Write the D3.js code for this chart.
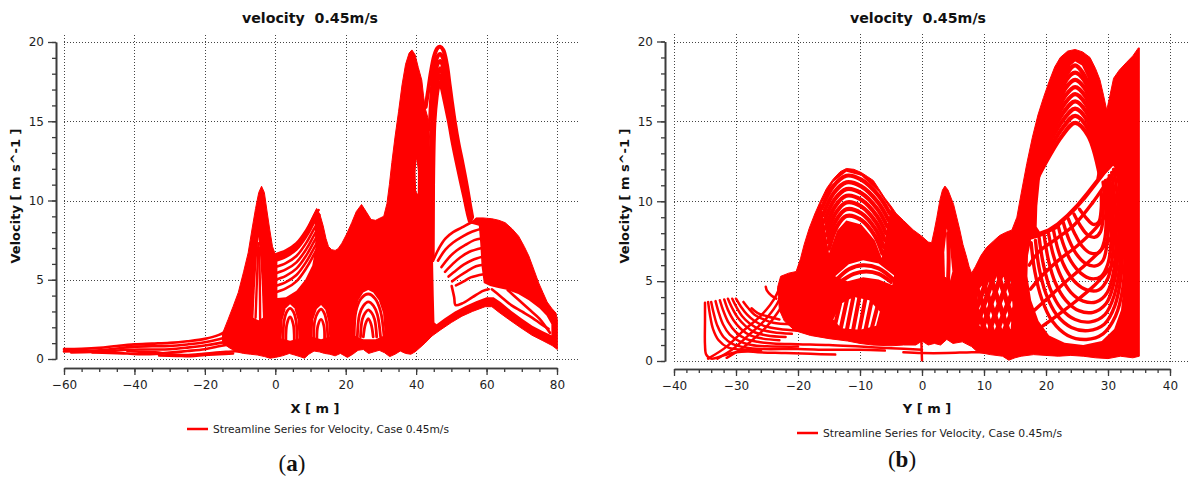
<!DOCTYPE html>
<html lang="en">
<head>
<meta charset="utf-8">
<title>velocity 0.45m/s</title>
<script src="https://d3js.org/d3.v7.min.js"></script>
<style>
  body { margin: 0; background: #ffffff; }
  svg { display: block; }
  .tick text { font-family: "DejaVu Sans", sans-serif; font-size: 12px; fill: #1e1e1e; }
  .axis .domain { stroke: #3c3c3c; stroke-width: 1.6; }
  .axis .tick line { stroke: #3c3c3c; stroke-width: 1.3; }
  .grid { stroke: #444; stroke-width: 1; stroke-dasharray: 1,2; }
  .ttl { font-family: "DejaVu Sans", sans-serif; font-weight: bold; font-size: 14px; fill: #111; white-space: pre; }
  .lbl { font-family: "DejaVu Sans", sans-serif; font-weight: bold; font-size: 13px; fill: #111; white-space: pre; }
  .leg { font-family: "DejaVu Sans", sans-serif; font-size: 11px; fill: #222; }
  .cap { font-family: "Liberation Serif", "DejaVu Serif", serif; font-size: 23px; fill: #111; }
</style>
</head>
<body>
<div id="my_dataviz"></div>
<script>
// ---------- data ----------
var yTicks = [0, 5, 10, 15, 20];
var xTicksA = [-60, -40, -20, 0, 20, 40, 60, 80];
var xTicksB = [-40, -30, -20, -10, 0, 10, 20, 30, 40];
var titleText = "velocity  0.45m/s";
var legendText = "Streamline Series for Velocity, Case 0.45m/s";

// panel (a) : velocity vs X, outer edge of the dense bundle
var aEnvTop = [[-15,1.6],[-13.4,2.5],[-12,3.3],[-10.5,4.2],[-9,5.5],[-7.7,6.7],[-6.6,8.2],[-5.6,9.5],[-4.7,10.5],[-3.9,10.9],[-3.1,10.5],[-2.4,9.4],[-1.6,8.2],[-0.8,7.1],[0,6.6],[2,6.75],[3.7,6.9],[5.2,7.1],[6.5,7.35],[8,7.8],[9.4,8.4],[10.6,9.0],[11.75,9.5],[12.7,9.1],[13.6,8.4],[14.4,7.6],[15.1,7.1],[16,6.9],[17,6.85],[17.8,6.95],[18.9,7.3],[20.3,7.9],[21.7,8.6],[23,9.3],[24.5,9.75],[25.8,9.3],[27.2,8.8],[28.5,8.75],[29.8,8.9],[30.8,9.0],[31.7,9.8],[32.4,11],[33.1,12.4],[34,14],[35,15.6],[36,17.3],[37,18.6],[38,19.3],[38.8,19.5],[39.7,19.2],[40.6,18.4],[41.6,17.6],[42.1,16.6],[42.6,15.8],[43.6,15.0],[44.2,12],[44.5,9],[44.6,6.2],[46.5,7.0],[48.3,7.6],[50.5,8.0],[53,8.3],[55.5,8.6],[57,8.9],[59,8.9],[61.5,8.85],[63.5,8.75],[65.3,8.6],[67.3,8.2],[69.1,7.75],[70.7,7.1],[72,6.5],[73.5,5.6],[74.8,4.8],[76,4.2],[77.2,3.6],[78.5,3.2],[79.7,2.9],[80.1,2.5]];
var aEnvBottom = [[-15,1.0],[-13,0.7],[-11,0.45],[-9,0.35],[-7,0.3],[-5,0.25],[-3,0.15],[-1.5,0.05],[0,0.1],[2,0.2],[4,0.35],[5.5,0.25],[7,0.15],[8.3,0.05],[9.5,0.3],[11,0.5],[12.5,0.45],[14,0.35],[15.5,0.3],[17,0.2],[18.5,0.35],[20.5,0.1],[22,0.3],[23.5,0.55],[25,0.6],[26.5,0.35],[28,0.45],[29.5,0.55],[31,0.4],[32.5,0.15],[34,0.3],[35.5,0.5],[37,0.35],[38.5,0.3],[39.7,0.45],[41,0.7],[42.5,1.0],[44.5,1.45],[47,1.85],[50,2.3],[53,2.7],[56,3.0],[59.6,3.3],[61.5,3.3],[63.5,2.95],[66.3,2.5],[69.5,2.0],[72.9,1.5],[76,1.15],[78.6,0.85],[80.1,0.6]];
// white gaps inside the bundle
var aHolePeak = [[-4.8,7.7],[-4.2,6.2],[-3.8,4.5],[-3.5,2.6],[-4.8,2.45],[-6.2,2.6],[-5.8,4.5],[-5.3,6.2]];
var aHoleFan = [[0.6,6.25],[3,6.45],[5.5,6.8],[8,7.4],[10,8.1],[11.2,8.6],[11.4,7.0],[10.5,5.9],[8.5,5.0],[6,4.3],[3,3.9],[0.6,3.85]];
var aHoleBase1 = [[1.8,1.3],[2.1,2.5],[3.0,3.2],[4.2,3.45],[5.4,3.2],[6.3,2.5],[6.6,1.3],[4.2,1.15]];
var aHoleBase2 = [[10.5,1.4],[10.8,2.5],[11.8,3.15],[13,3.4],[14.2,3.1],[15.0,2.4],[15.3,1.4],[13,1.25]];
var aHoleArch = [[22.3,1.5],[22.6,2.8],[23.6,3.7],[25,4.2],[26.4,4.35],[27.8,4.2],[29.4,3.7],[30.6,2.9],[31.1,1.5],[28.5,1.25],[25,1.25]];
var aHoleSliver = [[40.1,12.6],[40.5,11.8],[40.45,10.4],[40.0,10.6],[39.85,11.8]];
var aHoleDome = [[44.8,6.2],[46.5,7.0],[48.3,7.6],[50.5,8.0],[53,8.3],[55.5,8.55],[57.8,8.4],[58.2,7.3],[58.6,5.8],[59.2,4.8],[61,4.6],[63,4.5],[66,4.35],[69,4.1],[72,3.7],[75,3.2],[77,2.75],[78.4,2.2],[78.4,1.5],[76,1.75],[73,2.1],[70,2.55],[67,3.05],[64,3.6],[62,3.9],[60,3.9],[57,3.65],[54,3.35],[51,3.0],[48,2.55],[45.8,2.2],[45.2,2.3],[45.0,4]];
// single streamlines of (a)
var aTailLines = [
  [[-60,0.62],[-55,0.64],[-50,0.7],[-45,0.82],[-40,0.92],[-35,0.97],[-30,1.02],[-25,1.12],[-20,1.27],[-16,1.52],[-13,1.9]],
  [[-60,0.48],[-55,0.5],[-50,0.55],[-45,0.66],[-40,0.78],[-35,0.8],[-30,0.82],[-25,0.92],[-20,1.06],[-16,1.25],[-12,1.5]],
  [[-58,0.42],[-52,0.45],[-47,0.5],[-42,0.58],[-38,0.6],[-34,0.6],[-30,0.62],[-25,0.72],[-20,0.85],[-16,1.0],[-12,1.2]],
  [[-52,0.42],[-47,0.38],[-42,0.35],[-38,0.3],[-34,0.32],[-30,0.4],[-25,0.5],[-20,0.62],[-16,0.8],[-12,1.0]],
  [[-42,0.5],[-38,0.45],[-34,0.42],[-30,0.3],[-26,0.25],[-22,0.3],[-18,0.38],[-14,0.45],[-10,0.5]],
  [[-33,0.22],[-28,0.2],[-24,0.18],[-20,0.25],[-16,0.3],[-12,0.35]]
];
var aPeakLines = [
  [[-5.6,2.6],[-5.2,5],[-4.8,7.3]],
  [[-4.3,2.5],[-4.4,5],[-4.6,7]]
];
// arched streamlines of the highest peak (X about 47): thick top and left leg, thin right leg
var aTopLines = [
  [[42.7,15.9],[43.4,16.9],[44.2,18.1],[45.1,19.1],[46,19.6],[46.8,19.7],[47.7,19.5],[48.7,18.6],[49.5,17.3],[50.1,16.3],[51,14.9],[52,13.6],[53.2,12.3],[54.4,10.9],[55.3,9.7],[55.9,8.95]],
  [[43.9,14.5],[44.3,16.5],[45.0,18.1],[45.9,19.0],[46.8,19.25],[47.6,19.0],[48.4,18.2],[49.2,17.0],[49.9,15.95],[50.85,14.6],[51.85,13.4],[53.05,12.1],[54.25,10.75],[55.15,9.6],[55.75,8.9]],
  [[44.1,9],[44.2,12],[44.5,15],[45.1,17.2],[45.9,18.5],[46.8,18.8],[47.5,18.55],[48.2,17.75],[48.95,16.7],[49.7,15.65],[50.7,14.35],[51.7,13.2],[52.9,11.9],[54.1,10.6],[55.0,9.5],[55.6,8.85]],
  [[44.3,6.5],[44.35,9],[44.45,12],[44.8,15],[45.4,16.9],[46.1,17.95],[46.8,18.35],[47.4,18.05],[48.1,17.35],[48.8,16.4],[49.55,15.4],[50.55,14.1],[51.55,13.0],[52.75,11.7],[53.95,10.45],[54.85,9.4],[55.45,8.8]],
  [[44.5,6.5],[44.55,9],[44.65,12],[45.0,15],[45.6,16.7],[46.2,17.6],[46.8,17.9],[47.3,17.6],[48.0,16.9],[48.7,16.05],[49.45,15.15],[50.45,13.9],[51.45,12.8],[52.65,11.55],[53.85,10.3],[54.75,9.3],[55.35,8.75]],
  [[44.7,6.4],[44.75,9],[44.85,12],[45.2,15],[45.8,16.5],[46.3,17.2],[46.8,17.45],[47.25,17.15],[47.9,16.5],[48.65,15.7],[49.4,14.9],[50.35,13.7],[51.35,12.6],[52.55,11.35],[53.75,10.15],[54.65,9.2],[55.25,8.7]]
];
var aFanLines = [
  [[0,6.6],[3,6.85],[6,7.3],[9,8.2],[11,9.0],[12.3,9.4]],
  [[0,6.2],[3,6.45],[6,6.9],[9,7.8],[11,8.6],[12.5,9.1]],
  [[0,5.8],[3,6.05],[6,6.5],[9,7.4],[11,8.2],[12.7,8.8]],
  [[0,5.4],[3,5.65],[6,6.1],[9,7.0],[11,7.8],[12.9,8.5]],
  [[0,5.0],[3,5.25],[6,5.7],[9,6.6],[11,7.4],[13.1,8.2]],
  [[0,4.6],[3,4.85],[6,5.3],[9,6.2],[11,7.0],[13.3,7.9]],
  [[0,4.2],[3,4.45],[6,4.9],[9,5.8],[11,6.6],[13.5,7.6]]
];
var aArchLines = [
  [[22.4,1.4],[22.9,3.0],[24.3,3.8],[26.4,4.1],[28.4,3.8],[29.9,3.0],[30.9,1.4]],
  [[23.3,1.4],[23.9,2.8],[25,3.35],[26.4,3.6],[27.9,3.35],[29,2.8],[29.9,1.4]],
  [[24.2,1.4],[24.7,2.5],[25.5,2.9],[26.4,3.1],[27.4,2.9],[28.2,2.5],[28.8,1.4]],
  [[25,1.4],[25.6,2.2],[26.4,2.55],[27.2,2.2],[27.8,1.4]],
  [[2.2,1.2],[2.5,2.4],[3.3,3.0],[4.2,3.2],[5.1,3.0],[5.9,2.4],[6.2,1.2]],
  [[3.0,1.2],[3.3,2.2],[4.2,2.65],[5.1,2.2],[5.4,1.2]],
  [[10.9,1.3],[11.2,2.4],[12.1,2.95],[13,3.15],[13.9,2.9],[14.6,2.3],[14.9,1.3]],
  [[11.8,1.3],[12.1,2.1],[13,2.5],[13.8,2.1],[14.0,1.3]]
];
var aDomeLines = [
  [[44.8,6.2],[46.5,7.0],[48.3,7.6],[50.5,8.0],[53,8.3],[55.5,8.6],[58,8.8]],
  [[46.2,6.2],[48.3,6.9],[50.5,7.35],[53,7.7],[55.5,8.0],[58.3,8.2]],
  [[47.2,5.8],[49.3,6.4],[51.5,6.85],[54,7.2],[56.5,7.5],[58.5,7.6]],
  [[48.2,5.5],[50.4,6.0],[52.5,6.4],[55,6.75],[58.7,7.0]],
  [[49.2,5.2],[51.4,5.6],[53.5,5.95],[56,6.25],[58.8,6.45]],
  [[50.2,4.9],[52.4,5.25],[54.5,5.55],[57,5.85],[59,5.95]],
  [[51.3,4.65],[53.5,4.9],[55.5,5.15],[59.2,5.35]]
];
var aLowLines = [
  [[50.1,4.6],[50.8,3.9],[51.2,3.4],[53,3.5],[56,3.9],[59,4.3],[60.6,4.4]],
  [[61.5,4.4],[64,3.95],[67,3.4],[70,3.0],[73,2.6],[75.5,2.2],[77.6,1.9]],
  [[66,4.35],[69,3.75],[72,3.15],[75,2.55],[78,1.65]]
];

// panel (b) : velocity vs Y
var bEnvTop = [[-23.3,4.6],[-22.8,5.3],[-21.5,5.5],[-20.3,5.6],[-19.6,6.4],[-19.0,7.3],[-18.2,8.3],[-17.3,9.2],[-16.4,10.0],[-15.4,10.8],[-14.3,11.4],[-13.2,11.85],[-12.2,12.05],[-11,12.0],[-9.8,11.8],[-8.8,11.55],[-7.85,11.3],[-7,10.8],[-6,10.2],[-5,9.7],[-4.2,9.25],[-3,8.8],[-1.4,8.2],[0,7.8],[1,7.45],[1.55,7.4],[2.0,8.2],[2.4,9.0],[2.9,10.1],[3.3,10.7],[3.7,10.95],[4.2,10.7],[4.7,10.2],[5.1,9.8],[5.6,9.0],[6.1,8.2],[6.6,7.3],[7.2,6.5],[7.6,5.9],[8.0,5.5],[8.6,5.9],[9.5,6.6],[10.4,7.1],[11.5,7.5],[12.5,7.85],[13.5,8.05],[14.5,8.2],[15.3,9.0],[16.0,10.5],[16.9,12.35],[17.8,14.0],[18.7,15.4],[19.6,16.5],[20.5,17.5],[21.4,18.4],[22.3,19.0],[23.5,19.4],[24.7,19.5],[25.9,19.35],[27.1,19.0],[28.0,18.3],[28.7,17.6],[29.3,16.6],[29.8,15.7],[30.3,16.6],[30.9,17.7],[31.8,18.2],[33,18.7],[34,19.1],[34.9,19.6],[35.05,19.6]];
var bEnvBottom = [[-23.3,4.6],[-23,3.2],[-22.2,2.5],[-20.5,1.9],[-18,1.6],[-15,1.4],[-12,1.25],[-10,1.1],[-8,1.0],[-5,0.95],[-3,1.0],[-1,1.0],[0,1.25],[1,1.0],[2,1.1],[3,1.0],[4,1.35],[5,1.1],[6.5,1.2],[8,0.9],[9,0.55],[11,0.4],[13,0.3],[14,0.05],[15,0.2],[16,0.3],[18,0.4],[20,0.35],[22,0.3],[24,0.35],[26,0.3],[28,0.2],[30,0.15],[32,0.3],[34,0.2],[35.05,0.3]];
var bHoleOval = [[24.7,18.75],[25.8,18.5],[26.7,17.75],[27.4,16.5],[27.9,15],[28.3,13.5],[28.4,12],[28.1,11.4],[26.5,10.6],[24.9,9.85],[23.3,9.2],[21.7,8.65],[20.3,8.3],[19.0,8.1],[18.5,8.4],[18.6,9.7],[19.0,11.3],[19.6,12.7],[20.5,13.9],[21.5,15.2],[22.3,16.5],[23.2,17.8],[24,18.5]];
var bHoleLoop = [[17.6,7.6],[19.0,7.75],[21.7,8.25],[24.9,9.45],[26.5,10.15],[28.2,11.0],[29.6,11.7],[30.8,12.2],[31.8,12.0],[32.4,10],[32.7,7.5],[32.6,5],[32.1,3.2],[31,2],[29,1.25],[26,1.0],[23,1.15],[20.5,1.6],[18.8,2.5],[17.6,3.8],[17.0,5.3],[17.1,6.6]];
var bHoleCap = [[-16.3,9.8],[-14.3,11.2],[-12.2,11.85],[-9.8,11.6],[-7.0,10.6],[-5.1,9.5],[-6.5,6.45],[-7.6,7.55],[-9.8,8.55],[-12.2,8.8],[-13.7,8.15],[-15.0,6.75]];
var bHoleMid = [[-14,5.3],[-11.8,6.05],[-9.5,6.3],[-7,6.1],[-4.5,5.35],[-4.8,4.75],[-7,5.1],[-9.5,5.25],[-12,5.0]];
var bHoleLow = [[-14.3,2.6],[-13,3.6],[-11,4.0],[-8.5,3.8],[-6.8,3.1],[-7.4,2.2],[-10,1.95],[-13,2.05]];
var bHolePeak = [[4.0,8.3],[4.5,7.2],[4.9,5.6],[4.5,5.0],[3.7,5.3],[3.6,6.8]];
var bHoleMesh = [[9,2.3],[9.0,4.4],[10.5,5.1],[12.5,5.4],[14.3,5.0],[14.6,3.5],[14.3,2.0],[12,1.8],[10.2,1.9]];
// single streamlines of (b)
var bLeftLines = [
  [[-35,3.65],[-35,2.5],[-35,1.0],[-34.8,0.4],[-34,0.15],[-32,0.35],[-30,0.55],[-28,0.6],[-26.5,0.55],[-22,0.5],[-18,0.45],[-14,0.4]],
  [[-34.5,3.7],[-34.2,2.9],[-33.7,2.0],[-32.8,1.3],[-31.3,0.85],[-29,0.7],[-26,0.65]],
  [[-34,3.7],[-33.6,3.0],[-33,2.2],[-32,1.5],[-30.5,1.05],[-28.5,0.85],[-26,0.75],[-20,0.75],[-15,0.7],[-10,0.7],[-6,0.65]],
  [[-33.3,3.75],[-32.8,3.05],[-32.1,2.3],[-31,1.65],[-29.5,1.25],[-27.5,1.0],[-25,0.92],[-20,0.9]],
  [[-32.6,3.8],[-32,3.1],[-31.2,2.4],[-30,1.8],[-28.5,1.4],[-26.5,1.2],[-24,1.1],[-20,1.05],[-15,1.0],[-10,0.9],[-5,0.8],[0,0.7]],
  [[-31.9,3.85],[-31.3,3.2],[-30.4,2.55],[-29.2,2.0],[-27.7,1.6],[-25.7,1.4],[-23,1.3]],
  [[-31.3,3.9],[-30.6,3.3],[-29.7,2.7],[-28.5,2.2],[-27,1.8],[-25,1.6],[-22,1.5]],
  [[-30.6,3.9],[-29.9,3.35],[-29,2.8],[-27.8,2.35],[-26.2,2.0],[-24,1.8],[-21,1.7]],
  [[-30,3.9],[-29.2,3.4],[-28.2,2.9],[-27,2.5],[-25.5,2.2],[-23,2.0],[-20,1.9]],
  [[-28.8,3.7],[-28,3.3],[-27,2.9],[-25.5,2.6],[-24,2.4],[-21,2.3]],
  [[-27.5,3.3],[-26.5,3.0],[-25,2.8],[-23,2.6]],
  [[-34.5,0.15],[-31.5,0.9],[-28.8,1.9],[-26.1,2.8],[-24.5,3.5],[-23.4,4.2],[-22.5,5.2]],
  [[-33,0.15],[-30.5,0.75],[-28,1.6],[-25.5,2.5],[-23.5,3.5],[-22.3,4.5]],
  [[-31.5,0.2],[-29,0.8],[-26.5,1.6],[-24.5,2.4],[-22.8,3.3]],
  [[-25.2,4.65],[-25,4.4],[-24.3,4.1],[-23.5,3.9]],
  [[-3,0.55],[0,0.5],[4,0.5],[8,0.55],[11,0.55],[14,0.5]],
  [[-0.1,1.2],[0,0.05]]
];
var bCapLines = [
  [[-16.2,9.55],[-14.3,10.95],[-12.2,11.6],[-9.8,11.35],[-7.0,10.35],[-5.2,9.25]],
  [[-16.0,9.13],[-14.2,10.53],[-12.2,11.18],[-9.8,10.93],[-7.1,9.93],[-5.4,8.83]],
  [[-15.8,8.71],[-14.1,10.11],[-12.2,10.76],[-9.8,10.51],[-7.2,9.51],[-5.6,8.41]],
  [[-15.6,8.29],[-14.0,9.69],[-12.2,10.34],[-9.8,10.09],[-7.3,9.09],[-5.8,7.99]],
  [[-15.4,7.87],[-13.9,9.27],[-12.2,9.92],[-9.8,9.67],[-7.4,8.67],[-6.0,7.57]],
  [[-15.2,7.45],[-13.8,8.85],[-12.2,9.5],[-9.8,9.25],[-7.5,8.25],[-6.2,7.15]],
  [[-15.0,7.03],[-13.7,8.43],[-12.2,9.08],[-9.8,8.83],[-7.6,7.83],[-6.4,6.73]],
  [[22.0,16.5],[23.4,18.0],[24.7,18.5],[26.0,18.0],[27.7,16.5]],
  [[21.6,15.8],[23.3,17.6],[24.7,18.05],[26.1,17.6],[27.95,15.8]],
  [[21.2,15.2],[23.2,17.1],[24.7,17.6],[26.2,17.1],[28.2,15.2]],
  [[20.75,14.6],[23.1,16.6],[24.7,17.15],[26.3,16.6],[28.3,14.6]],
  [[20.3,14.0],[23.0,16.1],[24.7,16.7],[26.4,16.1],[28.5,14.0]],
  [[19.8,13.4],[22.9,15.6],[24.7,16.25],[26.5,15.6],[28.6,13.4]],
  [[19.35,12.8],[22.8,15.1],[24.7,15.8],[26.6,15.1],[28.65,12.8]],
  [[19.1,12.2],[22.7,14.6],[24.7,15.35],[26.7,14.6],[28.7,12.2]],
  [[18.8,11.6],[22.6,14.1],[24.7,14.9],[26.8,14.1],[28.7,11.6]]
];
var bStripeLines = [
  [[-14,5.0],[-11.8,5.75],[-9.5,6.0],[-7,5.8],[-4.6,5.1]],
  [[-13.2,4.95],[-11,5.45],[-9,5.6],[-7,5.45],[-5,4.95]],
  [[-14.0,2.3],[-13.2,3.6]],[[-13.1,2.05],[-12.1,3.85]],[[-12.1,2.0],[-11.1,3.95]],[[-11.1,1.97],[-10.1,4.0]],
  [[-10.1,1.95],[-9.1,3.95]],[[-9.1,1.98],[-8.1,3.8]],[[-8.1,2.05],[-7.2,3.4]],
  [[4.2,8.0],[4.3,6.5],[4.2,5.0]]
];
var bMeshLines = [
  [[8.8,2.2],[11.6,5.3]],[[9.6,1.9],[12.8,5.4]],[[10.8,1.85],[13.9,5.1]],[[12.0,1.8],[14.6,4.3]],[[13.2,1.85],[14.7,3.2]],[[8.9,3.4],[10.6,5.2]],
  [[8.9,3.2],[10.2,1.9]],[[8.9,4.5],[11.4,1.85]],[[9.8,5.0],[12.7,1.8]],[[11.0,5.3],[13.9,1.9]],[[12.3,5.4],[14.6,2.6]],[[13.6,5.2],[14.7,3.9]]
];
var bLoopLines = [
  [[17.6,7.4],[18.2,5.6],[19.3,3.9],[21,2.5],[23.5,1.6],[26.5,1.35],[29.2,1.7],[31.2,2.8],[32.4,4.6],[32.8,7.5],[32.6,10.5],[32,12.2]],
  [[18.3,7.55],[18.9,5.8],[20.0,4.2],[21.7,2.9],[24.1,2.1],[26.8,1.9],[29.4,2.3],[31.1,3.45],[32.1,5.3],[32.4,8.0],[32.2,10.8],[31.6,12.25]],
  [[18.9,7.7],[19.6,6.0],[20.7,4.5],[22.4,3.3],[24.7,2.6],[27.2,2.45],[29.5,2.9],[31,4.1],[31.9,6.0],[32.1,8.5],[31.8,11],[31.2,12.3]],
  [[19.7,7.85],[20.4,6.3],[21.5,4.9],[23.2,3.8],[25.3,3.15],[27.6,3.05],[29.7,3.6],[30.9,4.8],[31.6,6.6],[31.7,9.0],[31.2,11.4],[30.9,12.0]],
  [[20.4,8.0],[21.2,6.6],[22.4,5.3],[24.0,4.3],[26.0,3.75],[28.1,3.7],[29.9,4.3],[30.9,5.6],[31.3,7.4],[31.2,9.6],[30.6,11.8]],
  [[21.2,8.2],[22.0,6.9],[23.2,5.75],[24.8,4.9],[26.6,4.45],[28.5,4.45],[30.0,5.2],[30.7,6.5],[30.9,8.4],[30.6,10.5],[30.2,11.6]],
  [[22,8.4],[22.9,7.2],[24.1,6.2],[25.6,5.5],[27.3,5.15],[28.9,5.3],[30,6.1],[30.5,7.5],[30.5,9.3],[30,11.4]],
  [[22.8,8.65],[23.7,7.6],[24.9,6.7],[26.4,6.1],[28.0,5.95],[29.2,6.3],[29.8,7.2],[30.1,8.5],[29.9,10.2],[29.6,11.3]],
  [[23.6,8.9],[24.6,8.0],[25.8,7.2],[27.2,6.75],[28.6,6.8],[29.4,7.5],[29.7,8.7],[29.5,10.2],[29.2,11.2]],
  [[24.5,9.2],[25.5,8.5],[26.7,7.9],[27.9,7.75],[28.8,8.1],[29.2,9.0],[29.1,10.4]],
  [[25.4,9.5],[26.5,8.95],[27.6,8.55],[28.5,8.7],[28.9,9.5],[28.9,10.6]],
  [[17.3,6.0],[19,6.9],[21.5,7.6],[24.5,8.5],[27.5,9.9],[30,11.3],[31.5,12.1]],
  [[17.5,4.5],[19.5,5.4],[22,6.3],[25,7.2],[28,8.3],[30.5,9.6],[32.3,10.8]],
  [[18.2,3.2],[20.5,4.0],[23,4.9],[26,5.9],[29,7.0],[31.5,8.3],[32.6,9.2]],
  [[19.5,2.2],[22,2.9],[25,3.8],[28,4.8],[30.5,5.9],[32.5,7.0]]
];

// ---------- drawing ----------
var red = "#ff0000";
var svg = d3.select("#my_dataviz")
  .append("svg")
  .attr("width", 1190)
  .attr("height", 479);

function drawPanel(p) {
  var x = d3.scaleLinear().domain(p.xDomain).range(p.xRange);
  var y = d3.scaleLinear().domain([0, 20]).range(p.yRange);
  var g = svg.append("g").attr("class", "panel-" + p.letter);

  function drawGrid(sel) {
    sel.selectAll(".gx").data(p.xTicks).enter().append("line")
      .attr("class", "grid")
      .attr("x1", function (d) { return Math.round(x(d)) + 0.5; })
      .attr("x2", function (d) { return Math.round(x(d)) + 0.5; })
      .attr("y1", p.plotTop).attr("y2", y(0) + 2);
    sel.selectAll(".gy").data(yTicks).enter().append("line")
      .attr("class", "grid")
      .attr("x1", x(p.xDomain[0])).attr("x2", p.plotRight)
      .attr("y1", function (d) { return Math.round(y(d)) + 0.5; })
      .attr("y2", function (d) { return Math.round(y(d)) + 0.5; });
  }
  drawGrid(g.append("g"));

  var area = d3.line()
    .x(function (d) { return x(d[0]); })
    .y(function (d) { return y(d[1]); })
    .curve(d3.curveLinearClosed);

  // filled bundle
  g.append("path")
    .attr("d", area(p.envTop.concat(p.envBottom.slice().reverse())))
    .attr("fill", red)
    .attr("stroke", red)
    .attr("stroke-width", 1)
    .attr("stroke-linejoin", "round");

  // white gaps between the streamlines
  g.append("g").selectAll("path").data(p.holes).enter().append("path")
    .attr("d", area)
    .attr("fill", "#ffffff");

  // grid shows again inside the gaps
  var clip = g.append("clipPath").attr("id", "holes" + p.letter);
  clip.selectAll("path").data(p.holes).enter().append("path").attr("d", area);
  drawGrid(g.append("g").attr("clip-path", "url(#holes" + p.letter + ")"));

  // single streamlines
  var stream = d3.line()
    .x(function (d) { return x(d[0]); })
    .y(function (d) { return y(d[1]); })
    .curve(d3.curveCatmullRom.alpha(0.5));
  p.groups.forEach(function (grp) {
    g.append("g").selectAll("path").data(grp.lines).enter().append("path")
      .attr("d", stream)
      .attr("fill", "none")
      .attr("stroke", red)
      .attr("stroke-width", grp.w)
      .attr("stroke-linecap", "round")
      .attr("stroke-linejoin", "round");
  });

  // y axis (minor + major ticks)
  g.append("g").attr("class", "axis")
    .attr("transform", "translate(" + p.yAxisX + ",0)")
    .call(d3.axisLeft(y).tickValues(d3.range(0, 21, 1)).tickSize(4).tickSizeOuter(0).tickFormat(""));
  g.append("g").attr("class", "axis")
    .attr("transform", "translate(" + p.yAxisX + ",0)")
    .call(d3.axisLeft(y).tickValues(yTicks).tickSize(8).tickPadding(4).tickSizeOuter(0));

  // x axis (minor + major ticks)
  g.append("g").attr("class", "axis")
    .attr("transform", "translate(0," + p.xAxisY + ")")
    .call(d3.axisBottom(x).tickValues(p.xMinor).tickSize(4).tickSizeOuter(0).tickFormat(""));
  g.append("g").attr("class", "axis")
    .attr("transform", "translate(0," + p.xAxisY + ")")
    .call(d3.axisBottom(x).tickValues(p.xTicks).tickSize(7).tickPadding(5).tickSizeOuter(0));

  // texts
  g.append("text").attr("class", "ttl")
    .attr("x", p.titleX).attr("y", 23)
    .attr("text-anchor", "middle")
    .attr("textLength", 136).attr("lengthAdjust", "spacingAndGlyphs")
    .text(titleText);
  g.append("text").attr("class", "lbl")
    .attr("transform", "translate(" + p.yLabelX + ",196) rotate(-90)")
    .attr("text-anchor", "middle")
    .text("Velocity [ m s^-1 ]");
  g.append("text").attr("class", "lbl")
    .attr("x", p.xLabelX).attr("y", 413)
    .attr("text-anchor", "middle")
    .text(p.xLabel);

  // legend
  g.append("line")
    .attr("x1", p.legX).attr("x2", p.legX + 21)
    .attr("y1", p.legY).attr("y2", p.legY)
    .attr("stroke", red).attr("stroke-width", 2.5);
  g.append("text").attr("class", "leg")
    .attr("x", p.legX + 26).attr("y", p.legY + 4)
    .attr("textLength", p.legW).attr("lengthAdjust", "spacingAndGlyphs")
    .text(legendText);

  // sub-figure letter
  var cap = g.append("text").attr("class", "cap")
    .attr("x", p.capX).attr("y", p.capY)
    .attr("text-anchor", "middle");
  cap.append("tspan").text("(");
  cap.append("tspan").attr("font-weight", "bold").text(p.letter);
  cap.append("tspan").text(")");
}

drawPanel({
  xDomain: [-60, 80], xRange: [64, 557], yRange: [359, 42],
  xTicks: xTicksA, xMinor: d3.range(-60, 81, 5),
  plotTop: 35, plotRight: 579, yAxisX: 56, xAxisY: 368,
  envTop: aEnvTop, envBottom: aEnvBottom,
  holes: [aHolePeak, aHoleFan, aHoleBase1, aHoleBase2, aHoleArch, aHoleSliver, aHoleDome],
  groups: [
    { lines: aTailLines, w: 2.6 },
    { lines: aPeakLines, w: 2.4 },
    { lines: aTopLines, w: 4.0 },
    { lines: aFanLines, w: 2.6 },
    { lines: aArchLines, w: 2.8 },
    { lines: aDomeLines, w: 2.6 },
    { lines: aLowLines, w: 2.6 }
  ],
  titleX: 310, yLabelX: 20, xLabelX: 315, xLabel: "X [ m ]",
  legX: 187, legY: 429, legW: 236,
  capX: 292, capY: 471, letter: "a"
});

drawPanel({
  xDomain: [-40, 40], xRange: [674, 1170], yRange: [361, 41.5],
  xTicks: xTicksB, xMinor: d3.range(-40, 41, 2),
  plotTop: 34, plotRight: 1190, yAxisX: 665, xAxisY: 369,
  envTop: bEnvTop, envBottom: bEnvBottom,
  holes: [bHoleOval, bHoleLoop, bHoleCap, bHoleMid, bHoleLow, bHolePeak, bHoleMesh],
  groups: [
    { lines: bLeftLines, w: 2.5 },
    { lines: bCapLines, w: 4.2 },
    { lines: bStripeLines, w: 4.0 },
    { lines: bMeshLines, w: 5.0 },
    { lines: bLoopLines, w: 3.4 }
  ],
  titleX: 918, yLabelX: 629, xLabelX: 927, xLabel: "Y [ m ]",
  legX: 797, legY: 433, legW: 239,
  capX: 902, capY: 467, letter: "b"
});
</script>
</body>
</html>
